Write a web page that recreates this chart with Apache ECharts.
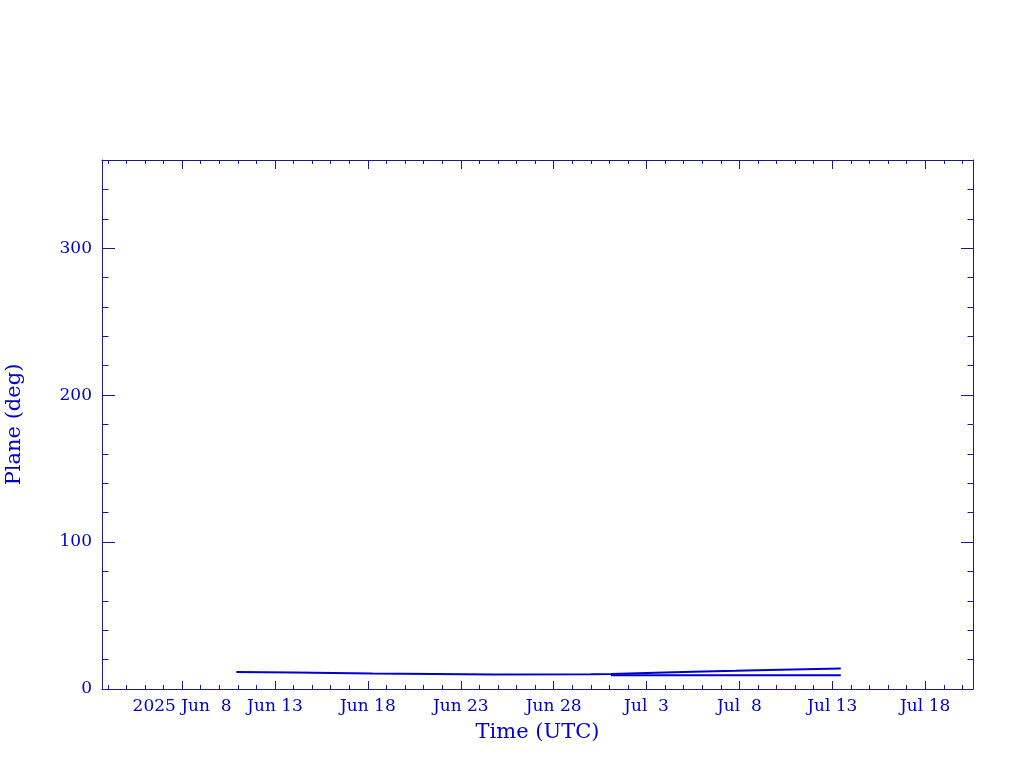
<!DOCTYPE html>
<html>
<head>
<meta charset="utf-8">
<script src="https://cdn.jsdelivr.net/npm/echarts@6/dist/echarts.min.js"></script>
<style>
html,body{margin:0;padding:0;background:#fff;}
#chart{width:1024px;height:768px;}
</style>
</head>
<body>
<div id="chart"></div>
<script>
// ---- data ----
const trackATimes = ['2025-06-10T22:00Z','2025-06-14T00:00Z','2025-06-18T06:00Z','2025-06-24T19:00Z','2025-06-30T00:00Z','2025-07-01T02:00Z','2025-07-03T00:00Z','2025-07-05T12:00Z','2025-07-07T19:00Z','2025-07-10T05:00Z','2025-07-13T11:00Z'];
const trackAValues = [11.6, 11.2, 10.5, 9.9, 10.0, 10.2, 10.9, 11.8, 12.4, 13.1, 14.0];
const trackBTimes = ['2025-07-01T02:00Z','2025-07-13T11:00Z'];
const trackBValues = [9.3, 9.3];

const majorTickDates = ['2025-06-08','2025-06-13','2025-06-18','2025-06-23','2025-06-28','2025-07-03','2025-07-08','2025-07-13','2025-07-18'];
const firstTickPrefix = '2025 ';
const yMajorTicks = [0, 100, 200, 300];
const yMinorTicks = [20,40,60,80,120,140,160,180,220,240,260,280,320,340];
const yRange = [0, 360];
const xRangeTimes = ['2025-06-03T16:30Z','2025-07-20T13:47Z'];

// ---- derived ----
const ms = s => new Date(s).getTime();
const DAY = 86400000;
const xMin = ms(xRangeTimes[0]), xMax = ms(xRangeTimes[1]);
const majors = majorTickDates.map(d => ms(d + 'T00:00Z'));
const minors = [];
for (let t = Math.ceil(xMin / DAY) * DAY; t <= xMax; t += DAY) minors.push(t);
const months = ['Jan','Feb','Mar','Apr','May','Jun','Jul','Aug','Sep','Oct','Nov','Dec'];
function fmt(v) {
  const d = new Date(v);
  const day = d.getUTCDate();
  let s = months[d.getUTCMonth()] + ' ' + (day < 10 ? ' ' + day : '' + day);
  if (v === majors[0]) s = firstTickPrefix + s;
  return s;
}
const dataA = trackATimes.map((t, i) => [ms(t), trackAValues[i]]);
const dataB = trackBTimes.map((t, i) => [ms(t), trackBValues[i]]);

const AX = '#1a1a96';
const TX = '#0000c8';
const LN = '#0000cc';
const FONT = 'DejaVu Serif';

function xAx(pos, vals, len, line, labels) {
  return {
    type: 'value', position: pos, min: xMin, max: xMax, offset: 0,
    axisLine: {show: line, onZero: false, lineStyle: {color: AX, width: 1}},
    axisTick: {show: true, inside: true, length: len, customValues: vals, lineStyle: {color: AX, width: 1}},
    axisLabel: labels ? {show: true, customValues: vals, formatter: fmt, color: TX, fontFamily: FONT, fontSize: 17, margin: 9} : {show: false},
    splitLine: {show: false}
  };
}
function yAx(pos, vals, len, line, labels) {
  return {
    type: 'value', position: pos, min: yRange[0], max: yRange[1], offset: 0,
    axisLine: {show: line, onZero: false, lineStyle: {color: AX, width: 1}},
    axisTick: {show: true, inside: true, length: len, customValues: vals, lineStyle: {color: AX, width: 1}},
    axisLabel: labels ? {show: true, customValues: vals, color: TX, fontFamily: FONT, fontSize: 17, margin: 10} : {show: false},
    splitLine: {show: false}
  };
}

const xAxes = [
  xAx('bottom', majors, 8, true, true),
  xAx('bottom', minors, 4, false, false),
  xAx('top', majors, 9, true, false),
  xAx('top', minors, 4, false, false)
];
xAxes[0].name = 'Time (UTC)';
xAxes[0].nameLocation = 'middle';
xAxes[0].nameGap = 33;
xAxes[0].nameTextStyle = {color: TX, fontFamily: FONT, fontSize: 21};

const yAxes = [
  yAx('left', yMajorTicks, 13, true, true),
  yAx('left', yMinorTicks, 6.5, false, false),
  yAx('right', yMajorTicks, 12, true, false),
  yAx('right', yMinorTicks, 5.5, false, false)
];
yAxes[0].name = 'Plane (deg)';
yAxes[0].nameLocation = 'middle';
yAxes[0].nameGap = 77;
yAxes[0].nameTextStyle = {color: TX, fontFamily: FONT, fontSize: 21};

const chart = echarts.init(document.getElementById('chart'), null, {renderer: 'canvas'});
chart.setOption({
  animation: false,
  backgroundColor: '#ffffff',
  grid: {left: 102, right: 51, top: 160, bottom: 79, containLabel: false, outerBoundsMode: 'none'},
  xAxis: xAxes,
  yAxis: yAxes,
  series: [
    {type: 'line', xAxisIndex: 0, yAxisIndex: 0, data: dataA, showSymbol: false, symbol: 'none', lineStyle: {color: LN, width: 2}},
    {type: 'line', xAxisIndex: 0, yAxisIndex: 0, data: dataB, showSymbol: false, symbol: 'none', lineStyle: {color: LN, width: 2}}
  ]
});
</script>
</body>
</html>
